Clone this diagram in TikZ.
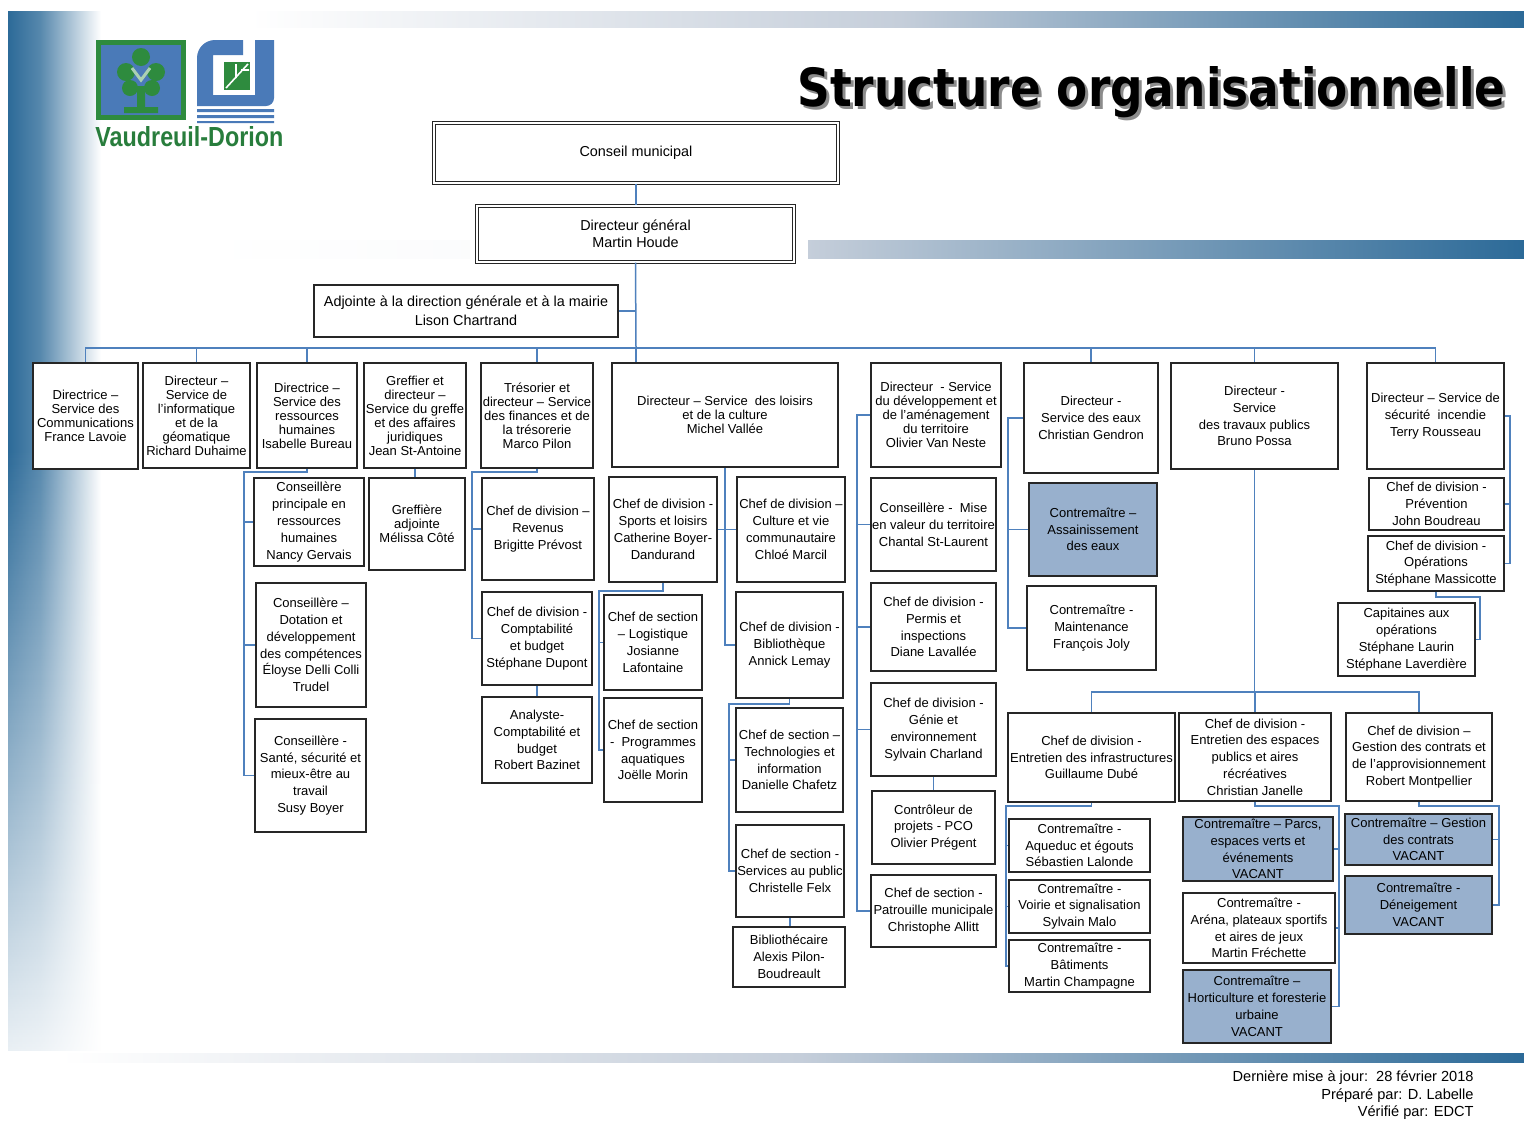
\documentclass[tikz,border=0pt]{standalone}
\usepackage{graphicx}
\usepackage{fontspec}
\setmainfont{Liberation Sans}
\newfontfamily\titlefont{DejaVu Sans}
\usetikzlibrary{fadings}
\definecolor{linkblue}{RGB}{79,129,189}
\definecolor{vacantfill}{RGB}{152,176,205}
\definecolor{bgblue}{RGB}{44,106,152}
\definecolor{bandlight}{RGB}{197,206,218}
\definecolor{logogreen}{RGB}{46,139,62}
\definecolor{logoblue}{RGB}{74,122,184}
\definecolor{textgreen}{RGB}{40,125,60}
\begin{document}
\begin{tikzpicture}[x=0.5pt, y=-0.5pt,
    box/.style={draw=black!85, line width=0.8pt, fill=white, align=center, inner sep=0pt,
      font=\fontsize{6.5}{8.4}\selectfont},
    head/.style={box, font=\fontsize{6.5}{7}\selectfont},
    topbox/.style={box, double=white, double distance=1.1pt, line width=0.55pt,
      font=\fontsize{7.2}{8.6}\selectfont},
    vacant/.style={box, fill=vacantfill},
    sz/.style 2 args={minimum width=#1*0.5pt, minimum height=#2*0.5pt},
    link/.style={draw=linkblue, line width=0.75pt}]
  \useasboundingbox (0,0) rectangle (1524,1120);
  \fill[white] (0,0) rectangle (1524,1120);

  % background bands
  \shade[left color=bgblue, right color=bgblue!80!white] (8,11) rectangle (40,1050);
  \shade[left color=bgblue!80!white, right color=white] (40,11) rectangle (101,1050);
  \fill[white, path fading=north, fill opacity=0.9] (8,450) rectangle (101,1051);
  \shade[left color=white, right color=bandlight] (250,11) rectangle (900,27);
  \shade[left color=bandlight, right color=bgblue] (900,11) rectangle (1524,27);
  \shade[left color=white, right color=white!93!bandlight] (200,240) rectangle (470,258);
  \shade[left color=bandlight, right color=bgblue] (808,240) rectangle (1524,258);
  \shade[left color=white, right color=bandlight] (60,1053) rectangle (800,1062);
  \shade[left color=bandlight, right color=bgblue] (800,1053) rectangle (1524,1062);

  % logo
  \fill[logogreen] (96,40) rectangle (186,120);
  \fill[logoblue] (101,45) rectangle (181,115);
  \fill[logogreen] (141,57) circle (9) (126,72) circle (9) (156,72) circle (9)
    (130,88) circle (8) (152,88) circle (8);
  \fill[logogreen] (137,86) rectangle (145,110) (124,107) rectangle (158,113);
  \draw[white!60!logogreen, line width=1.5pt] (132,68) -- (141,80) -- (150,68);
  \fill[logoblue] (197,106) -- (197,58) to[out=90,in=180] (215,40) -- (243,40) -- (243,55)
    -- (213,55) -- (213,95) -- (255,95) -- (255,40) -- (274,40) -- (274,98)
    to[out=-90,in=0] (266,106) -- cycle;
  \fill[logogreen] (224,62) rectangle (250,90);
  \draw[white, line width=0.8pt] (226,88) -- (248,64) (236,64) -- (236,78) (241,70) -- (249,70);
  \fill[logoblue] (197,109) rectangle (274,112) (197,115) rectangle (274,118) (197,121) rectangle (274,123);
  \node[anchor=base west, inner sep=0, text=textgreen] (logotext) at (95,146)
    {\resizebox{94pt}{10pt}{\bfseries Vaudreuil-Dorion}};

  % title
  \node[anchor=base west, inner sep=0, text=black!45] (titleshadow) at (800,109)
    {\resizebox{354pt}{20pt}{\titlefont\bfseries Structure organisationnelle}};
  \node[anchor=base west, inner sep=0] (title) at (797,106)
    {\resizebox{354pt}{20pt}{\titlefont\bfseries Structure organisationnelle}};

  % direction
  \node[topbox, sz={404}{60}] (conseil) at (636,153) {Conseil municipal};
  \node[topbox, sz={317}{56}] (dg) at (635.5,234) {Directeur général\\Martin Houde};
  \node[box, sz={304}{52}, font=\fontsize{7.2}{9.5}\selectfont] (adj) at (466,311)
    {Adjointe à la direction générale et à la mairie\\Lison Chartrand};

  % services
  \node[head, sz={105}{106}] (comm) at (85.5,416) {Directrice –\\Service des\\Communications\\France Lavoie};
  \node[head, sz={107}{105}] (info) at (196.5,415.5) {Directeur –\\Service de\\l’informatique\\et de la\\géomatique\\Richard Duhaime};
  \node[head, sz={100}{105}] (rh) at (307,415.5) {Directrice –\\Service des\\ressources\\humaines\\Isabelle Bureau};
  \node[head, sz={102}{105}] (greffe) at (415,415.5) {Greffier et\\directeur –\\Service du greffe\\et des affaires\\juridiques\\Jean St-Antoine};
  \node[head, sz={112}{105}] (tres) at (537,415.5) {Trésorier et\\directeur – Service\\des finances et de\\la trésorerie\\Marco Pilon};
  \node[head, sz={226}{104}] (loisirs) at (725,415) {Directeur – Service\ \ des loisirs\\et de la culture\\Michel Vallée};
  \node[head, sz={130}{104}] (devt) at (936,415) {Directeur\ \ - Service\\du développement et\\de l’aménagement\\du territoire\\Olivier Van Neste};
  \node[box, sz={134}{110}] (eaux) at (1091,418) {Directeur -\\Service des eaux\\Christian Gendron};
  \node[box, sz={167}{106}] (tp) at (1254.5,416) {Directeur -\\Service\\des travaux publics\\Bruno Possa};
  \node[box, sz={137}{106}] (incendie) at (1435.5,416) {Directeur – Service de\\sécurité\ \ incendie\\Terry Rousseau};

  % ressources humaines, greffe, finances
  \node[box, sz={110}{88}] (nancy) at (309,522) {Conseillère\\principale en\\ressources\\humaines\\Nancy Gervais};
  \node[box, sz={110}{124}] (eloyse) at (311,645) {Conseillère –\\Dotation et\\développement\\des compétences\\Éloyse Delli Colli\\Trudel};
  \node[box, sz={111}{113}] (susy) at (310.5,775.5) {Conseillère -\\Santé, sécurité et\\mieux-être au\\travail\\Susy Boyer};
  \node[head, sz={96}{92}] (greffiere) at (417,524) {Greffière\\adjointe\\Mélissa Côté};
  \node[box, sz={112}{102}] (revenus) at (538,529) {Chef de division –\\Revenus\\Brigitte Prévost};
  \node[box, sz={110}{93}] (compta) at (537,638.5) {Chef de division -\\Comptabilité\\et budget\\Stéphane Dupont};
  \node[box, sz={110}{86}] (analyste) at (537,740) {Analyste-\\Comptabilité et\\budget\\Robert Bazinet};

  % loisirs et culture
  \node[box, sz={108}{105}] (sports) at (663,529.5) {Chef de division -\\Sports et loisirs\\Catherine Boyer-\\Dandurand};
  \node[box, sz={108}{105}] (culture) at (791,529.5) {Chef de division –\\Culture et vie\\communautaire\\Chloé Marcil};
  \node[box, sz={98}{95}] (logistique) at (653,642.5) {Chef de section\\– Logistique\\Josianne\\Lafontaine};
  \node[box, sz={98}{104}] (aquatique) at (653,750) {Chef de section\\-\ \ Programmes\\aquatiques\\Joëlle Morin};
  \node[box, sz={107}{106}] (biblio) at (789.5,645) {Chef de division -\\Bibliothèque\\Annick Lemay};
  \node[box, sz={107}{104}] (techno) at (789.5,760) {Chef de section –\\Technologies et\\information\\Danielle Chafetz};
  \node[box, sz={108}{92}] (services) at (790,871) {Chef de section -\\Services au public\\Christelle Felx};
  \node[box, sz={112}{60}] (bibliothecaire) at (789,957) {Bibliothécaire\\Alexis Pilon-\\Boudreault};

  % développement du territoire
  \node[box, sz={125}{93}] (mise) at (933.5,524.5) {Conseillère -\ \ Mise\\en valeur du territoire\\Chantal St-Laurent};
  \node[box, sz={125}{88}] (permis) at (933.5,627) {Chef de division -\\Permis et\\inspections\\Diane Lavallée};
  \node[box, sz={125}{93}] (genie) at (933.5,729.5) {Chef de division -\\Génie et\\environnement\\Sylvain Charland};
  \node[box, sz={123}{73}] (controleur) at (933.5,827.5) {Contrôleur de\\projets - PCO\\Olivier Prégent};
  \node[box, sz={125}{72}] (patrouille) at (933.5,911) {Chef de section -\\Patrouille municipale\\Christophe Allitt};

  % eaux
  \node[vacant, sz={128}{93}] (assain) at (1093,529.5) {Contremaître –\\Assainissement\\des eaux};
  \node[box, sz={129}{84}] (maint) at (1091.5,628) {Contremaître -\\Maintenance\\François Joly};

  % incendie
  \node[box, sz={135}{52}] (prevention) at (1436.5,504) {Chef de division -\\Prévention\\John Boudreau};
  \node[box, sz={136}{55}] (operations) at (1436,563.5) {Chef de division -\\Opérations\\Stéphane Massicotte};
  \node[box, sz={137}{73}] (capitaines) at (1406.5,639.5) {Capitaines aux\\opérations\\Stéphane Laurin\\Stéphane Laverdière};

  % travaux publics
  \node[box, sz={167}{89}] (infra) at (1091.5,757.5) {Chef de division -\\Entretien des infrastructures\\Guillaume Dubé};
  \node[box, sz={152}{88}] (espaces) at (1255,757) {Chef de division -\\Entretien des espaces\\publics et aires\\récréatives\\Christian Janelle};
  \node[box, sz={146}{88}] (contrats) at (1419,757) {Chef de division –\\Gestion des contrats et\\de l’approvisionnement\\Robert Montpellier};
  \node[box, sz={141}{53}] (aqueduc) at (1079.5,845.5) {Contremaître -\\Aqueduc et égouts\\Sébastien Lalonde};
  \node[box, sz={141}{53}] (voirie) at (1079.5,906.5) {Contremaître -\\Voirie et signalisation\\Sylvain Malo};
  \node[box, sz={141}{52}] (batiments) at (1079.5,966) {Contremaître -\\Bâtiments\\Martin Champagne};
  \node[vacant, sz={150}{64}] (parcs) at (1258,849) {Contremaître – Parcs,\\espaces verts et\\événements\\VACANT};
  \node[box, sz={152}{70}] (arena) at (1259,928) {Contremaître -\\Aréna, plateaux sportifs\\et aires de jeux\\Martin Fréchette};
  \node[vacant, sz={148}{73}] (horti) at (1257,1006.5) {Contremaître –\\Horticulture et foresterie\\urbaine\\VACANT};
  \node[vacant, sz={147}{51}] (gestion) at (1418.5,839.5) {Contremaître – Gestion\\des contrats\\VACANT};
  \node[vacant, sz={147}{58}] (deneig) at (1418.5,905) {Contremaître -\\Déneigement\\VACANT};

  % footer
  \node[anchor=base east, inner sep=0, font=\fontsize{7.3}{8}\selectfont] (maj) at (1474,1081) {Dernière mise à jour:\ \ 28 février 2018};
  \node[anchor=base east, inner sep=0, font=\fontsize{7.3}{8}\selectfont] (prep) at (1474,1099) {Préparé par: D. Labelle};
  \node[anchor=base east, inner sep=0, font=\fontsize{7.3}{8}\selectfont] (verif) at (1474,1116) {Vérifié par: EDCT};

  % connectors
  \coordinate (bus) at (636,348);
  \coordinate (rhbus) at (244,472);
  \coordinate (tresbus) at (472,472);
  \coordinate (sportsbus) at (599,591);
  \coordinate (bibbus) at (729,704);
  \coordinate (devbus) at (857,415);
  \coordinate (eauxbus) at (1008,418);
  \coordinate (incbus) at (1510,416);
  \coordinate (capbend) at (1480,597);
  \coordinate (tpbus) at (1254.5,692);
  \coordinate (infrabus) at (1006,806);
  \coordinate (espbus) at (1339,806);
  \coordinate (contbus) at (1499,806);
  \begin{scope}[link]
    \draw (conseil.south) -- (conseil.south |- dg.north);
    \draw (dg.south) -- (bus);
    \draw (adj.east) -- (adj.east -| bus);
    \draw (bus) -| (comm.north);
    \draw (bus) -| (info.north);
    \draw (bus) -| (rh.north);
    \draw (bus) -| (tres.north);
    \draw (bus) -- (bus |- loisirs.north);
    \draw (bus) -| (eaux.north);
    \draw (bus) -| (tp.north);
    \draw (bus) -| (incendie.north);
    \draw (rh.south) |- (rhbus) |- (susy.west);
    \draw (rhbus) |- (nancy.west);
    \draw (rhbus) |- (eloyse.west);
    \draw (greffe.south) -- (greffe.south |- greffiere.north);
    \draw (tres.south) |- (tresbus) |- (compta.west);
    \draw (tresbus) |- (revenus.west);
    \draw (compta.south) -- (compta.south |- analyste.north);
    \draw (loisirs.south) |- (biblio.west);
    \draw (sports.east) -- (culture.west);
    \draw (sports.south) |- (sportsbus) |- (aquatique.west);
    \draw (sportsbus) |- (logistique.west);
    \draw (biblio.south) |- (bibbus) |- (services.west);
    \draw (bibbus) |- (techno.west);
    \draw (services.south) -- (services.south |- bibliothecaire.north);
    \draw (devt.west) -- (devbus) |- (patrouille.west);
    \draw (devbus) |- (mise.west);
    \draw (devbus) |- (permis.west);
    \draw (devbus) |- (genie.west);
    \draw (genie.south) -- (genie.south |- controleur.north);
    \draw (eaux.west) -- (eauxbus) |- (maint.west);
    \draw (eauxbus) |- (assain.west);
    \draw (incendie.east) -- (incbus) |- (operations.east);
    \draw (incbus) |- (prevention.east);
    \draw (operations.south) |- (capbend) |- (capitaines.east);
    \draw (tp.south) -- (tpbus);
    \draw (tpbus) -| (infra.north);
    \draw (tpbus) -| (espaces.north);
    \draw (tpbus) -| (contrats.north);
    \draw (infra.south) |- (infrabus) |- (batiments.west);
    \draw (infrabus) |- (aqueduc.west);
    \draw (infrabus) |- (voirie.west);
    \draw (espaces.south) |- (espbus) |- (horti.east);
    \draw (espbus) |- (parcs.east);
    \draw (espbus) |- (arena.east);
    \draw (contrats.south) |- (contbus) |- (deneig.east);
    \draw (contbus) |- (gestion.east);
  \end{scope}
\end{tikzpicture}
\end{document}
